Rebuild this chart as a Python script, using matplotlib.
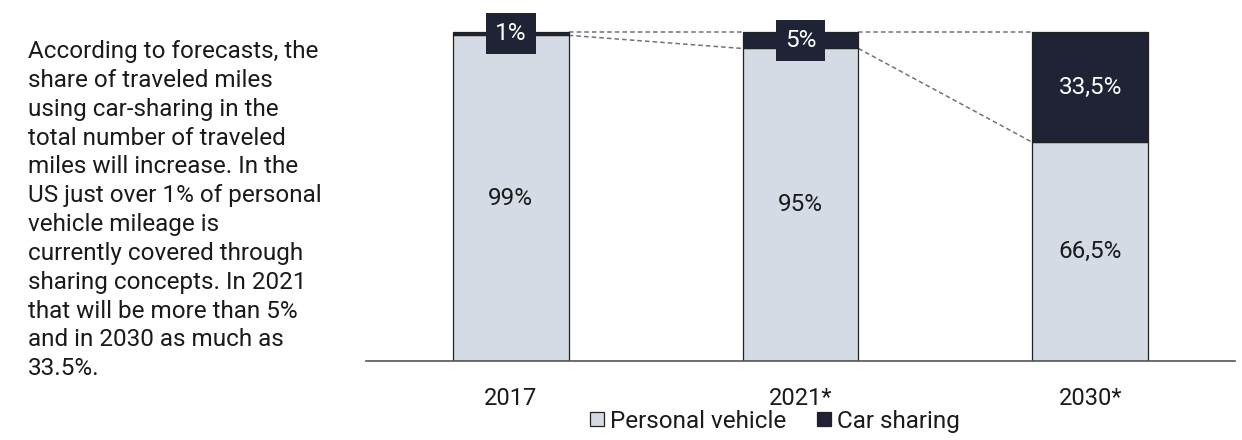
import matplotlib.pyplot as plt
import numpy as np

plt.rcParams['font.family'] = ['Roboto', 'DejaVu Sans']

years = ['2017', '2021*', '2030*']
personal = [99, 95, 66.5]
sharing = [1, 5, 33.5]
series_names = ['Personal vehicle', 'Car sharing']

light = '#d5dbe4'
dark = '#1f2335'
txt = '#1a1a1a'

note = ("According to forecasts, the\nshare of traveled miles\nusing car-sharing in the\n"
        "total number of traveled\nmiles will increase. In the\nUS just over 1% of personal\n"
        "vehicle mileage is\ncurrently covered through\nsharing concepts. In 2021\n"
        "that will be more than 5%\nand in 2030 as much as\n33.5%.")


def fmt(v):
    s = ('%g' % v).replace('.', ',')
    return s + '%'


fig = plt.figure(figsize=(12.42, 4.4), dpi=100)
ax = fig.add_axes([366/1242, 79/440, 869/1242, 351/440])

x = np.arange(len(years))
w = 0.4
ax.bar(x, personal, w, color=light, edgecolor='#222222', linewidth=0.9,
       label=series_names[0], zorder=2)
ax.bar(x, sharing, w, bottom=personal, color=dark, edgecolor='#222222',
       linewidth=0.9, label=series_names[1], zorder=2)

# dashed connectors between bars
for i in range(len(years) - 1):
    x0 = x[i] + w/2
    x1 = x[i+1] - w/2
    ax.plot([x0, x1], [100, 100], ls=(0, (3, 2)), color='#6f737c', lw=1.1, zorder=1)
    ax.plot([x0, x1], [personal[i], personal[i+1]], ls=(0, (3, 2)),
            color='#6f737c', lw=1.1, zorder=1)

for i in range(len(years)):
    ax.text(x[i], personal[i]/2, fmt(personal[i]), ha='center', va='center',
            fontsize=17.5, color=txt, zorder=3)
    yc = personal[i] + sharing[i]/2
    if sharing[i] < 10:
        ax.text(x[i], yc, fmt(sharing[i]), ha='center', va='center', fontsize=17.5,
                color='white', zorder=3,
                bbox=dict(boxstyle='square,pad=0.38', fc=dark, ec='none'))
    else:
        ax.text(x[i], yc, fmt(sharing[i]), ha='center', va='center', fontsize=17.5,
                color='white', zorder=3)

ax.set_xlim(-0.5, 2.5)
ax.set_ylim(0, 106.7)
ax.set_xticks(x)
ax.set_xticklabels(years, fontsize=17, color=txt)
ax.tick_params(axis='x', length=0, pad=18.5)
ax.set_yticks([])
for s in ['top', 'left', 'right']:
    ax.spines[s].set_visible(False)
ax.spines['bottom'].set_color('#555555')
ax.spines['bottom'].set_linewidth(1.2)

leg = fig.legend(loc='center', bbox_to_anchor=(775/1242, 1 - 421/440), ncol=2,
                 frameon=False, fontsize=17.5, handlelength=0.55, handleheight=0.55,
                 handletextpad=0.25, columnspacing=1.3, borderaxespad=0)
for t in leg.get_texts():
    t.set_color(txt)

fig.text(28/1242, 1 - 40/440, note, ha='left', va='top', fontsize=17.5,
         color=txt, linespacing=1.325)

fig.savefig('out.png', dpi=100)
